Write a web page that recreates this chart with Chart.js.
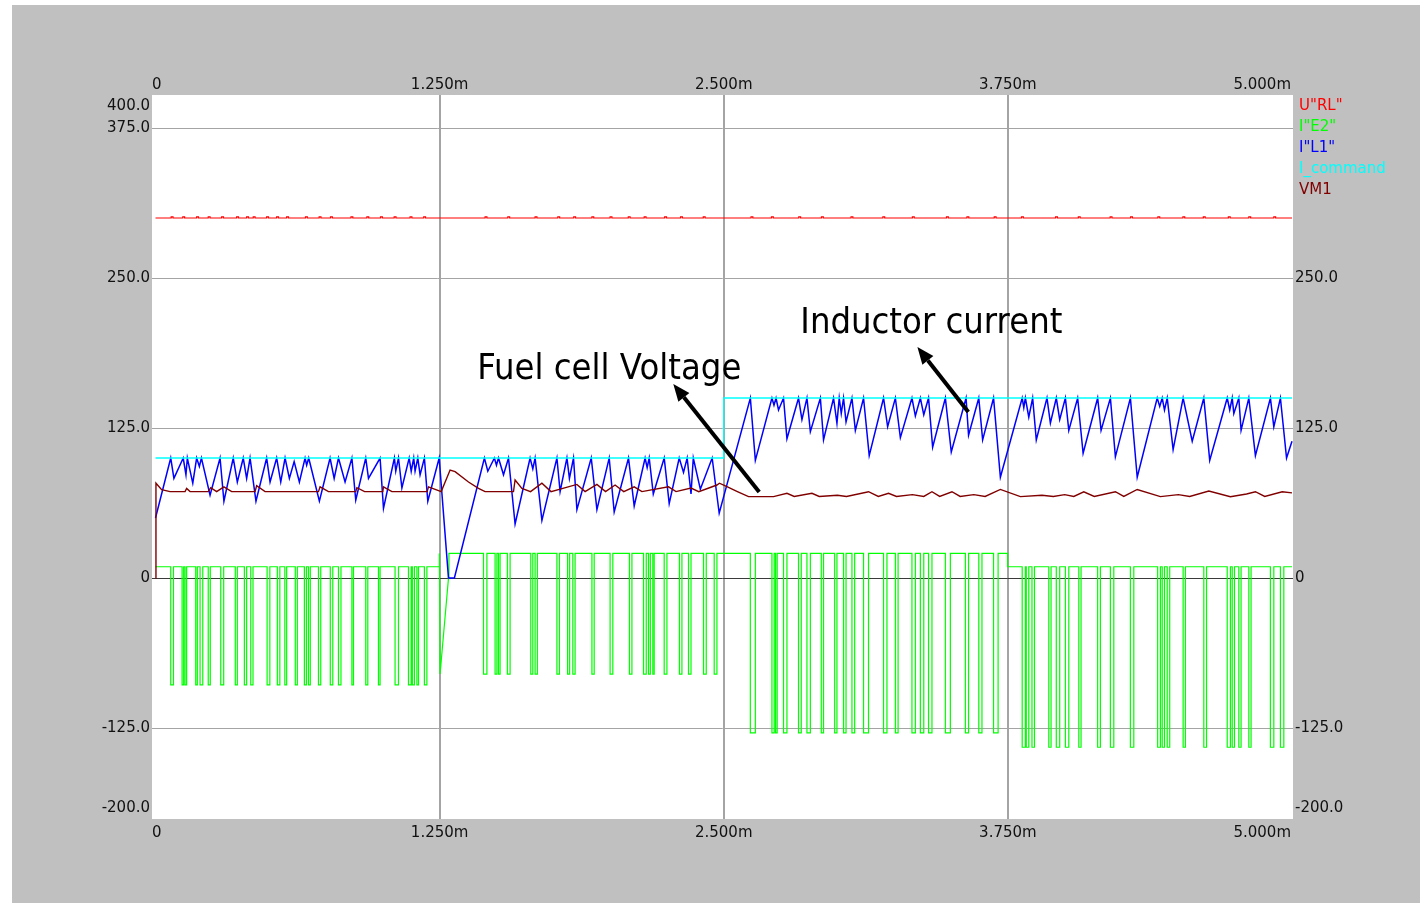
<!DOCTYPE html>
<html>
<head>
<meta charset="utf-8">
<script src="https://cdn.jsdelivr.net/npm/chart.js@4.4.1/dist/chart.umd.min.js"></script>
<style>
html, body { margin: 0; background: #fff; }
canvas { display: block; }
</style>
</head>
<body>
<canvas id="scopeChart" width="1420" height="903"></canvas>
<script>
const seriesNames = ['U"RL"', 'I"E2"', 'I"L1"', 'I_command', 'VM1'];
const seriesColors = ['#ff0000', '#00ff00', '#0000ff', '#00ffff', '#800000'];

const xTickVals = [0, 1.25, 2.5, 3.75, 5];
const xTickText = ['0', '1.250m', '2.500m', '3.750m', '5.000m'];
const yLeftVals = [400, 375, 250, 125, 0, -125, -200];
const yLeftText = ['400.0', '375.0', '250.0', '125.0', '0', '-125.0', '-200.0'];
const yRightVals = [250, 125, 0, -125, -200];
const yRightText = ['250.0', '125.0', '0', '-125.0', '-200.0'];
const gridX = [1.25, 2.5, 3.75];
const gridY = [375, 250, 125, 0, -125];

// U"RL" : flat 300 with small blips
const uRL = [[0, 300], [5, 300]];
const uRLBlips = [0.069, 0.120, 0.181, 0.232, 0.291, 0.357, 0.401, 0.430, 0.489, 0.533, 0.577, 0.66, 0.72, 0.77, 0.86, 0.93,
  0.99, 1.05, 1.12, 1.18, 1.45, 1.55, 1.67, 1.77, 1.84, 1.92, 2.00, 2.08, 2.15, 2.24, 2.31, 2.41, 2.62, 2.71, 2.83, 2.93,
  3.06, 3.20, 3.33, 3.48, 3.57, 3.69, 3.81, 3.96, 4.06, 4.20, 4.29, 4.41, 4.52, 4.61, 4.72, 4.81, 4.92];

// I"L1" (inductor current)
const iL1 = [[0, 50], [0.067, 100], [0.081, 83], [0.122, 100], [0.134, 86], [0.140, 100], [0.164, 79], [0.181, 100], [0.193, 93],
  [0.202, 100], [0.240, 69], [0.284, 100], [0.301, 64], [0.342, 100], [0.360, 80], [0.386, 100], [0.401, 83], [0.416, 100],
  [0.442, 64], [0.489, 100], [0.504, 80], [0.533, 100], [0.551, 80], [0.570, 100], [0.589, 83], [0.610, 97], [0.633, 80],
  [0.658, 100], [0.665, 94], [0.674, 100], [0.721, 64], [0.768, 100], [0.786, 83], [0.805, 100], [0.834, 80], [0.864, 100],
  [0.881, 65], [0.925, 100], [0.937, 83], [0.988, 100], [1.003, 58], [1.051, 100], [1.057, 89], [1.069, 100], [1.084, 75],
  [1.116, 100], [1.125, 89], [1.136, 100], [1.142, 89], [1.154, 100], [1.164, 86], [1.183, 100], [1.198, 64], [1.248, 100],
  [1.289, 0], [1.315, 0], [1.447, 100], [1.462, 89], [1.491, 100], [1.500, 94], [1.509, 100], [1.531, 86], [1.553, 100],
  [1.582, 45], [1.648, 100], [1.660, 91], [1.670, 100], [1.700, 48], [1.766, 100], [1.780, 72], [1.810, 100], [1.821, 83],
  [1.839, 100], [1.854, 57], [1.917, 100], [1.942, 57], [1.996, 100], [2.018, 55], [2.081, 100], [2.106, 60], [2.154, 100],
  [2.163, 92], [2.172, 100], [2.190, 70], [2.238, 100], [2.260, 62], [2.304, 100], [2.323, 88], [2.339, 100], [2.356, 70],
  [2.366, 100], [2.397, 74], [2.449, 100], [2.480, 54],
  [2.617, 150], [2.639, 98], [2.712, 150], [2.721, 144], [2.730, 150], [2.741, 140], [2.763, 150], [2.778, 116], [2.829, 150],
  [2.844, 132], [2.866, 150], [2.881, 122], [2.925, 150], [2.939, 115], [2.983, 150], [2.998, 129], [3.008, 150], [3.017, 137],
  [3.027, 150], [3.038, 130], [3.064, 150], [3.079, 123], [3.115, 150], [3.140, 102], [3.203, 150], [3.221, 126], [3.255, 150],
  [3.277, 117], [3.328, 150], [3.343, 135], [3.365, 150], [3.380, 136], [3.401, 150], [3.419, 109], [3.475, 150], [3.501, 105],
  [3.566, 150], [3.577, 119], [3.622, 150], [3.639, 115], [3.687, 150], [3.717, 84],
  [3.813, 150], [3.820, 142], [3.827, 150], [3.842, 134], [3.859, 150], [3.875, 115], [3.922, 150], [3.937, 129], [3.963, 150],
  [3.978, 132], [4.003, 150], [4.018, 123], [4.057, 150], [4.081, 104], [4.145, 150], [4.160, 123], [4.201, 150], [4.223, 101],
  [4.289, 150], [4.319, 84], [4.407, 150], [4.418, 143], [4.429, 150], [4.439, 140], [4.451, 150], [4.477, 107], [4.521, 150],
  [4.561, 114], [4.612, 150], [4.638, 98], [4.715, 150], [4.726, 140], [4.737, 150], [4.744, 137], [4.766, 150], [4.776, 123],
  [4.810, 150], [4.839, 102], [4.905, 150], [4.920, 126], [4.949, 150], [4.976, 100], [5.0, 114]];

// I_command
const iCmd = [[0, 100], [2.5, 100], [2.5, 150], [5, 150]];

// VM1 (fuel cell voltage)
const vm1 = [[0, 0], [0.002, 79], [0.027, 73.6], [0.064, 72], [0.130, 72], [0.137, 74.7], [0.152, 72], [0.232, 72], [0.243, 75.3],
  [0.269, 72], [0.301, 76], [0.335, 72], [0.438, 72], [0.445, 77], [0.482, 72], [0.717, 72], [0.724, 76], [0.761, 72], [0.881, 72],
  [0.886, 75.3], [0.92, 72], [1.000, 72], [1.003, 76], [1.04, 72], [1.195, 72], [1.201, 76], [1.257, 72], [1.296, 90],
  [1.318, 88.6], [1.377, 80], [1.421, 74.7], [1.450, 72], [1.575, 72], [1.582, 81.7], [1.612, 74.7], [1.65, 72], [1.700, 79],
  [1.74, 72], [1.854, 78], [1.89, 72], [1.942, 78], [1.98, 72], [2.022, 77.5], [2.06, 72], [2.106, 76], [2.14, 72], [2.257, 76],
  [2.29, 72], [2.356, 75], [2.39, 72], [2.470, 77.5], [2.481, 79], [2.507, 76.7], [2.560, 72], [2.609, 67.8], [2.719, 67.8],
  [2.778, 70.6], [2.81, 68], [2.888, 70.6], [2.92, 68], [3.00, 69], [3.04, 68], [3.137, 71.9], [3.18, 68], [3.225, 70.6],
  [3.26, 68], [3.33, 69.5], [3.38, 68], [3.416, 71.9], [3.45, 68], [3.504, 71.9], [3.54, 68], [3.60, 69.5], [3.65, 68],
  [3.717, 73.8], [3.805, 67.8], [3.90, 69], [3.95, 68], [4.00, 69.5], [4.04, 68], [4.084, 71.9], [4.13, 68], [4.223, 71.9],
  [4.26, 68], [4.319, 73.8], [4.421, 67.8], [4.50, 69.5], [4.55, 68], [4.634, 72.5], [4.729, 67.8], [4.80, 70], [4.839, 71.9],
  [4.88, 68], [4.957, 71.9], [5.0, 71]];

// I"E2" : four switching sections, pulses as [start, end]
const e2Span = [[0, 1.248], [1.291, 2.5], [2.5, 3.749], [3.749, 5]];
const e2Base = [9.4, 20.5, 20.5, 9.4];
const e2Low = [-89, -80, -129, -141];
const e2Pulses1 = [[0.067, 0.079], [0.117, 0.124], [0.130, 0.137], [0.177, 0.184], [0.196, 0.208], [0.232, 0.241], [0.287, 0.300],
  [0.351, 0.360], [0.391, 0.401], [0.419, 0.429], [0.491, 0.503], [0.536, 0.547], [0.569, 0.577], [0.615, 0.624], [0.655, 0.664],
  [0.673, 0.681], [0.717, 0.727], [0.769, 0.780], [0.805, 0.816], [0.864, 0.871], [0.925, 0.934], [0.981, 0.988], [1.054, 1.069],
  [1.113, 1.125], [1.130, 1.139], [1.150, 1.157], [1.183, 1.194]];
const e2Pulses2 = [[1.443, 1.458], [1.494, 1.502], [1.509, 1.516], [1.548, 1.560], [1.651, 1.660], [1.670, 1.680], [1.766, 1.777],
  [1.813, 1.822], [1.836, 1.846], [1.920, 1.930], [2.000, 2.012], [2.085, 2.096], [2.147, 2.159], [2.169, 2.177], [2.188, 2.194],
  [2.238, 2.250], [2.305, 2.316], [2.345, 2.356], [2.411, 2.423], [2.458, 2.470]];
const e2Pulses3 = [[2.617, 2.639], [2.712, 2.722], [2.728, 2.735], [2.763, 2.778], [2.829, 2.841], [2.866, 2.881], [2.929, 2.939],
  [2.988, 2.998], [3.027, 3.038], [3.064, 3.076], [3.115, 3.137], [3.203, 3.218], [3.255, 3.267], [3.328, 3.343], [3.365, 3.380],
  [3.401, 3.416], [3.475, 3.497], [3.563, 3.577], [3.622, 3.636], [3.687, 3.707]];
const e2Pulses4 = [[3.813, 3.827], [3.831, 3.842], [3.856, 3.867], [3.930, 3.940], [3.963, 3.978], [4.003, 4.018], [4.062, 4.072],
  [4.145, 4.157], [4.201, 4.216], [4.289, 4.304], [4.409, 4.421], [4.429, 4.439], [4.451, 4.462], [4.521, 4.531], [4.612, 4.624],
  [4.715, 4.729], [4.737, 4.747], [4.766, 4.776], [4.810, 4.820], [4.905, 4.920], [4.949, 4.964]];
const e2Transient = [[1.248, 9.4], [1.250, 20.5], [1.252, -80], [1.289, 0], [1.291, 20.5]];

// annotations (data coordinates)
const notes = [
    { text: 'Fuel cell Voltage', x: 1.415, y: 166, tail: [2.656, 71.7], tip: [2.278, 161.7] },
    { text: 'Inductor current', x: 2.837, y: 204, tail: [3.576, 138.3], tip: [3.352, 192.5] }
];

function toPoints(pairs) {
    return pairs.map(function(p) { return { x: p[0], y: p[1] }; });
}

function uRLPoints() {
    const pts = [{ x: uRL[0][0], y: uRL[0][1] }];
    uRLBlips.forEach(function(t) {
        pts.push({ x: t, y: 300 }, { x: t, y: 301 }, { x: t + 0.008, y: 301 }, { x: t + 0.008, y: 300 });
    });
    pts.push({ x: uRL[1][0], y: uRL[1][1] });
    return pts;
}

function e2Points() {
    const pts = [];
    [e2Pulses1, e2Pulses2, e2Pulses3, e2Pulses4].forEach(function(list, s) {
        pts.push({ x: e2Span[s][0], y: e2Base[s] });
        list.forEach(function(p) {
            pts.push({ x: p[0], y: e2Base[s] }, { x: p[0], y: e2Low[s] },
                     { x: p[1], y: e2Low[s] }, { x: p[1], y: e2Base[s] });
        });
        pts.push({ x: e2Span[s][1], y: e2Base[s] });
        if (s === 0) {
            e2Transient.forEach(function(p) { pts.push({ x: p[0], y: p[1] }); });
        }
    });
    return pts;
}

const seriesData = [uRLPoints(), e2Points(), toPoints(iL1), toPoints(iCmd), toPoints(vm1)];
const seriesWidths = [1.2, 1.2, 1.5, 1.3, 1.4];

const tickFont = '15px "DejaVu Sans", sans-serif';

const scopePlugin = {
    id: 'scope',
    beforeDraw: function(chart) {
        const ctx = chart.ctx;
        const a = chart.chartArea;
        ctx.save();
        ctx.fillStyle = '#ffffff';
        ctx.fillRect(0, 0, chart.width, chart.height);
        ctx.fillStyle = '#c0c0c0';
        ctx.fillRect(12, 5, chart.width - 12, chart.height - 5);
        ctx.fillStyle = '#ffffff';
        ctx.fillRect(a.left, a.top, a.right - a.left, a.bottom - a.top);
        ctx.restore();
    },
    afterDraw: function(chart) {
        const ctx = chart.ctx;
        const a = chart.chartArea;
        const xs = chart.scales.x;
        const ys = chart.scales.y;
        ctx.save();
        ctx.font = tickFont;
        ctx.fillStyle = '#111';
        ctx.textBaseline = 'middle';

        // y labels, kept inside the plot height
        function yPos(v) {
            return Math.min(Math.max(ys.getPixelForValue(v), a.top + 11), a.bottom - 11);
        }
        ctx.textAlign = 'right';
        yLeftVals.forEach(function(v, i) { ctx.fillText(yLeftText[i], a.left - 2, yPos(v)); });
        ctx.textAlign = 'left';
        yRightVals.forEach(function(v, i) { ctx.fillText(yRightText[i], a.right + 2, yPos(v)); });

        // x labels top and bottom
        ctx.textAlign = 'center';
        xTickVals.forEach(function(v, i) {
            const w = ctx.measureText(xTickText[i]).width;
            let px = xs.getPixelForValue(v);
            px = Math.min(Math.max(px, a.left + w / 2), a.right - 2 - w / 2);
            ctx.fillText(xTickText[i], px, a.top - 10);
            ctx.fillText(xTickText[i], px, a.bottom + 14);
        });

        // legend
        ctx.textAlign = 'left';
        seriesNames.forEach(function(name, i) {
            ctx.fillStyle = seriesColors[i];
            ctx.fillText(name, a.right + 6, a.top + 11 + i * 21);
        });

        // annotations
        ctx.fillStyle = '#000';
        ctx.strokeStyle = '#000';
        notes.forEach(function(n) {
            const x0 = xs.getPixelForValue(n.tail[0]), y0 = ys.getPixelForValue(n.tail[1]);
            const x1 = xs.getPixelForValue(n.tip[0]), y1 = ys.getPixelForValue(n.tip[1]);
            const ang = Math.atan2(y1 - y0, x1 - x0);
            const hl = 17, hw = 7;
            const bx = x1 - hl * Math.cos(ang), by = y1 - hl * Math.sin(ang);
            ctx.lineWidth = 4;
            ctx.beginPath();
            ctx.moveTo(x0, y0);
            ctx.lineTo(bx, by);
            ctx.stroke();
            ctx.beginPath();
            ctx.moveTo(x1, y1);
            ctx.lineTo(bx - hw * Math.sin(ang), by + hw * Math.cos(ang));
            ctx.lineTo(bx + hw * Math.sin(ang), by - hw * Math.cos(ang));
            ctx.closePath();
            ctx.fill();

            ctx.save();
            ctx.translate(xs.getPixelForValue(n.x), ys.getPixelForValue(n.y));
            ctx.scale(0.9, 1);
            ctx.font = '36px "DejaVu Sans", sans-serif';
            ctx.textAlign = 'left';
            ctx.textBaseline = 'alphabetic';
            ctx.fillText(n.text, 0, 0);
            ctx.restore();
        });
        ctx.restore();
    }
};

const ctx = document.getElementById('scopeChart').getContext('2d');
const chart = new Chart(ctx, {
    type: 'scatter',
    data: {
        datasets: seriesData.map(function(pts, i) {
            return {
                label: seriesNames[i],
                data: pts,
                showLine: true,
                borderColor: seriesColors[i],
                backgroundColor: seriesColors[i],
                borderWidth: seriesWidths[i],
                pointRadius: 0,
                tension: 0,
                order: seriesNames.length - i
            };
        })
    },
    options: {
        responsive: false,
        animation: false,
        events: [],
        layout: { padding: { left: 152, top: 95, right: 127, bottom: 84 } },
        plugins: {
            legend: { display: false },
            tooltip: { enabled: false }
        },
        scales: {
            x: {
                type: 'linear',
                min: -0.0154,
                max: 5.0044,
                afterBuildTicks: function(axis) { axis.ticks = gridX.map(function(v) { return { value: v }; }); },
                ticks: { display: false },
                grid: { color: '#a4a4a4', lineWidth: 2, drawTicks: false },
                border: { display: false }
            },
            y: {
                type: 'linear',
                min: -200.8,
                max: 402.5,
                afterBuildTicks: function(axis) { axis.ticks = gridY.map(function(v) { return { value: v }; }); },
                ticks: { display: false },
                grid: {
                    color: function(c) { return c.tick && c.tick.value === 0 ? '#3a3a3a' : '#a4a4a4'; },
                    lineWidth: 1,
                    drawTicks: false
                },
                border: { display: false }
            }
        }
    },
    plugins: [scopePlugin]
});
</script>
</body>
</html>
